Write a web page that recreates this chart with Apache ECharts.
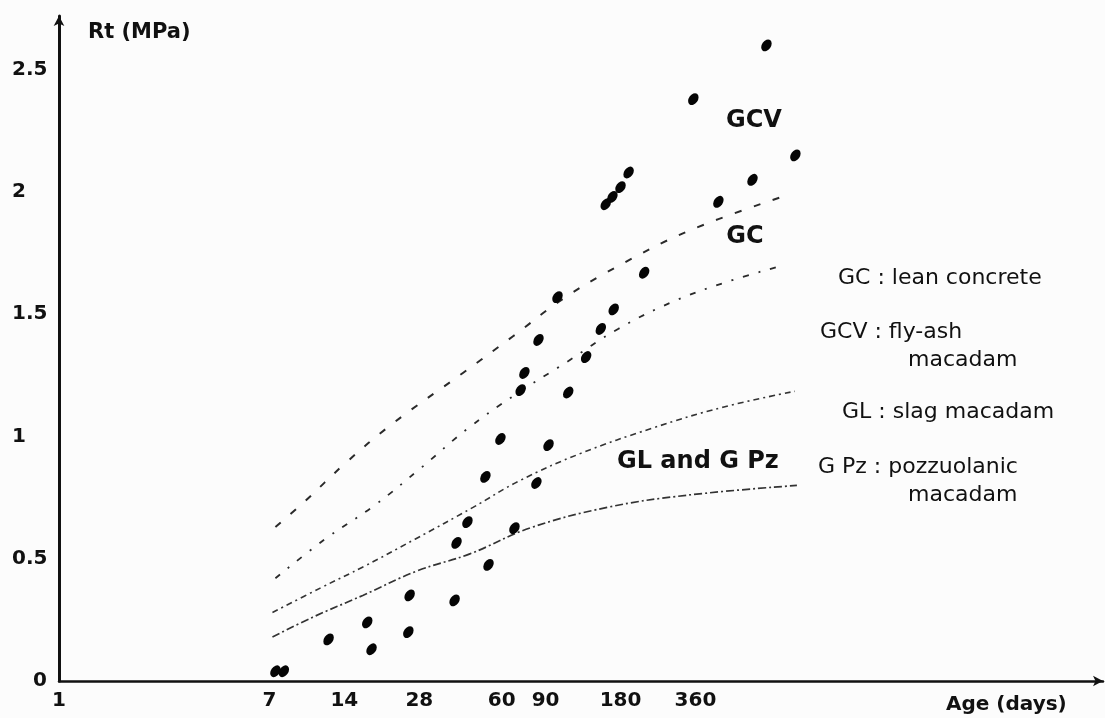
<!DOCTYPE html>
<html>
<head>
<meta charset="utf-8">
<title>Rt vs age</title>
<script src="https://cdn.jsdelivr.net/npm/echarts@6/dist/echarts.min.js"></script>
<style>
  html, body { margin: 0; padding: 0; background: #fcfcfc; }
  #chart { width: 1105px; height: 718px; }
</style>
</head>
<body>
<div id="chart"></div>
<script>
// tick labels
const xTickDays = [1, 7, 14, 28, 60, 90, 180, 360];
const yTickRt = [0, 0.5, 1, 1.5, 2, 2.5];

// GC band (lean concrete), upper and lower dashed curves
const gcUpperDays = [7.4, 9.6, 14.1, 21.7, 41.9, 66.6, 104.7, 171, 336, 801];
const gcUpperRt = [0.63, 0.73, 0.89, 1.05, 1.26, 1.41, 1.56, 1.69, 1.84, 1.98];
const gcLowerDays = [7.4, 11.7, 18.6, 28.7, 43.5, 67.8, 109.6, 176, 290, 473, 809];
const gcLowerRt = [0.42, 0.58, 0.72, 0.875, 1.03, 1.17, 1.305, 1.44, 1.55, 1.63, 1.70];

// GL and G Pz band
const glUpperDays = [7.2, 11.2, 16.9, 26.9, 46, 71, 124, 243, 464, 903];
const glUpperRt = [0.28, 0.38, 0.47, 0.58, 0.71, 0.82, 0.93, 1.035, 1.12, 1.185];
const gpzLowerDays = [7.2, 10.4, 16.6, 27.4, 44.7, 78, 159, 333, 920];
const gpzLowerRt = [0.18, 0.26, 0.35, 0.45, 0.52, 0.626, 0.71, 0.76, 0.80];

// GCV measured points
const gcvDays = [7.4, 8.0, 12.1, 17.3, 18.0, 25.6, 25.3, 38.8, 39.5, 43.7, 51.6, 53.1,
  59.3, 67.5, 82.7, 92.5, 71.5, 74, 84.3, 100.5, 111, 131, 150, 169, 224,
  157, 167, 180, 194, 353, 694, 907, 610, 445];
const gcvRt = [0.04, 0.04, 0.17, 0.24, 0.13, 0.35, 0.20, 0.33, 0.565, 0.65, 0.835, 0.475,
  0.99, 0.625, 0.81, 0.965, 1.19, 1.26, 1.395, 1.57, 1.18, 1.325, 1.44, 1.52, 1.67,
  1.95, 1.98, 2.02, 2.08, 2.38, 2.60, 2.15, 2.05, 1.96];

function pairs(xs, ys) {
  return xs.map((x, i) => [x, ys[i]]);
}

const FONT = '"DejaVu Sans", "Liberation Sans", sans-serif';
const INK = '#111';

var chart = echarts.init(document.getElementById('chart'));

var curveBase = {
  type: 'line',
  smooth: 0.4,
  showSymbol: false,
  silent: true,
  z: 2
};

var option = {
  backgroundColor: '#fcfcfc',
  animation: false,
  grid: { left: 59, right: 2, top: 16, bottom: 37 },
  xAxis: {
    type: 'log',
    logBase: 10,
    min: 1,
    max: 15600,
    axisLine: {
      show: true,
      onZero: false,
      symbol: ['none', 'arrow'],
      symbolSize: [8, 10],
      lineStyle: { color: INK, width: 2.5 }
    },
    axisTick: { show: false },
    splitLine: { show: false },
    minorTick: { show: false },
    axisLabel: {
      customValues: xTickDays,
      margin: 10,
      color: INK,
      fontFamily: FONT,
      fontSize: 20,
      fontWeight: 'bold'
    }
  },
  yAxis: {
    type: 'value',
    min: 0,
    max: 2.72,
    axisLine: {
      show: true,
      onZero: false,
      symbol: ['none', 'arrow'],
      symbolSize: [8, 10],
      lineStyle: { color: INK, width: 3 }
    },
    axisTick: { show: false },
    splitLine: { show: false },
    axisLabel: {
      customValues: yTickRt,
      align: 'left',
      margin: 47,
      color: INK,
      fontFamily: FONT,
      fontSize: 20,
      fontWeight: 'bold',
      formatter: function (v) {
        return v === 0 ? '{z|0}' : String(v);
      },
      rich: {
        z: { padding: [0, 0, 0, 21], color: INK, fontFamily: FONT, fontSize: 20, fontWeight: 'bold' }
      }
    }
  },
  series: [
    Object.assign({}, curveBase, {
      name: 'GC upper',
      data: pairs(gcUpperDays, gcUpperRt),
      lineStyle: { color: '#2a2a2a', width: 2, type: [7, 13] }
    }),
    Object.assign({}, curveBase, {
      name: 'GC lower',
      data: pairs(gcLowerDays, gcLowerRt),
      lineStyle: { color: '#2a2a2a', width: 1.8, type: [6, 10, 2, 10] }
    }),
    Object.assign({}, curveBase, {
      name: 'GL upper',
      data: pairs(glUpperDays, glUpperRt),
      lineStyle: { color: '#333', width: 1.6, type: [6, 4, 2, 4] }
    }),
    Object.assign({}, curveBase, {
      name: 'G Pz lower',
      data: pairs(gpzLowerDays, gpzLowerRt),
      lineStyle: { color: '#333', width: 1.7, type: [8, 3, 2, 3] }
    }),
    {
      name: 'GCV',
      type: 'scatter',
      data: pairs(gcvDays, gcvRt),
      symbol: 'path://M0,5a5,5 0 1,0 10,0a5,5 0 1,0 -10,0z',
      symbolSize: [9, 13],
      symbolRotate: -35,
      itemStyle: { color: '#050505', opacity: 1 },
      z: 3
    }
  ],
  graphic: [
    { type: 'text', x: 88, y: 33, style: { text: 'Rt (MPa)', font: 'bold 21px ' + FONT, fill: INK, textVerticalAlign: 'middle' } },
    { type: 'text', x: 946, y: 705, style: { text: 'Age (days)', font: 'bold 20px ' + FONT, fill: INK, textVerticalAlign: 'middle' } },

    { type: 'text', x: 754, y: 121, style: { text: 'GCV', font: 'bold 24px ' + FONT, fill: INK, textAlign: 'center', textVerticalAlign: 'middle' } },
    { type: 'text', x: 745, y: 237, style: { text: 'GC', font: 'bold 24px ' + FONT, fill: INK, textAlign: 'center', textVerticalAlign: 'middle' } },
    { type: 'text', x: 617, y: 462, style: { text: 'GL and G Pz', font: 'bold 24px ' + FONT, fill: INK, textVerticalAlign: 'middle' } },

    { type: 'text', x: 838, y: 278, style: { text: 'GC : lean concrete', font: '22px ' + FONT, fill: INK, textVerticalAlign: 'middle' } },
    { type: 'text', x: 820, y: 332, style: { text: 'GCV : fly-ash', font: '22px ' + FONT, fill: INK, textVerticalAlign: 'middle' } },
    { type: 'text', x: 908, y: 360, style: { text: 'macadam', font: '22px ' + FONT, fill: INK, textVerticalAlign: 'middle' } },
    { type: 'text', x: 842, y: 412, style: { text: 'GL : slag macadam', font: '22px ' + FONT, fill: INK, textVerticalAlign: 'middle' } },
    { type: 'text', x: 818, y: 467, style: { text: 'G Pz : pozzuolanic', font: '22px ' + FONT, fill: INK, textVerticalAlign: 'middle' } },
    { type: 'text', x: 908, y: 495, style: { text: 'macadam', font: '22px ' + FONT, fill: INK, textVerticalAlign: 'middle' } }
  ]
};

chart.setOption(option);
</script>
</body>
</html>
